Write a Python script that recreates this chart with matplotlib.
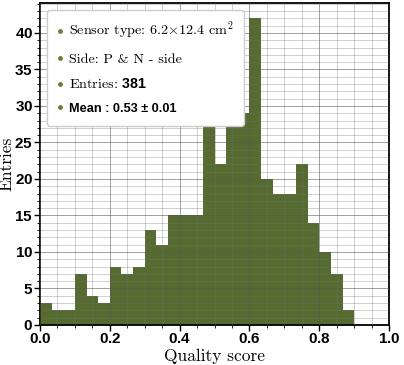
import numpy as np
import matplotlib
matplotlib.use('Agg')
import matplotlib.pyplot as plt
from matplotlib.lines import Line2D
from matplotlib.ticker import MultipleLocator

# histogram of quality scores, bins of width 1/30 from 0 to 0.9
bin_edges = np.linspace(0.0, 0.9, 28)
counts = [3, 2, 2, 7, 4, 3, 8, 7, 8, 13, 11, 15, 15, 15, 31,
          22, 33, 29, 42, 20, 18, 18, 22, 14, 10, 7, 2]

legend_labels = [
    r'Sensor type: 6.2$\times$12.4 cm$^2$',
    'Side: P & N - side',
    r'Entries: $\mathbf{381}$',
    'Mean : 0.53 \u00b1 0.01',
]

BAR_COLOR = '#566b30'
DOT_COLOR = '#6b7f3a'
SANS_BOLD = ['Liberation Sans', 'DejaVu Sans']

plt.rcParams['mathtext.fontset'] = 'custom'
plt.rcParams['mathtext.rm'] = 'cmr10'
plt.rcParams['mathtext.it'] = 'cmmi10'
plt.rcParams['mathtext.bf'] = 'Liberation Sans:bold'
plt.rcParams['mathtext.fallback'] = 'cm'
plt.rcParams['axes.formatter.use_mathtext'] = True

fig = plt.figure(figsize=(4.04, 3.65), dpi=100)
ax = fig.add_axes([0.099, 0.1096, 0.864, 0.882])

centers = (bin_edges[:-1] + bin_edges[1:]) / 2
ax.hist(centers, bins=bin_edges, weights=counts, color=BAR_COLOR)

ax.set_xlim(0, 1.0)
ax.set_ylim(0, 44.1)
ax.xaxis.set_major_locator(MultipleLocator(0.2))
ax.xaxis.set_minor_locator(MultipleLocator(0.05))
ax.yaxis.set_major_locator(MultipleLocator(5))
ax.yaxis.set_minor_locator(MultipleLocator(1))

ax.set_axisbelow(False)
ax.grid(which='major', color='0.35', linewidth=0.5, alpha=0.8)
ax.grid(which='minor', color='0.45', linewidth=0.4, alpha=0.6)

for s in ax.spines.values():
    s.set_linewidth(1.3)
ax.tick_params(which='major', length=4, width=1)
ax.tick_params(which='minor', length=2, width=0.6)
for lab in ax.get_xticklabels() + ax.get_yticklabels():
    lab.set_fontfamily(SANS_BOLD)
    lab.set_fontweight('bold')
    lab.set_fontsize(11)
ax.tick_params(pad=1)

ax.set_xlabel('Quality score', fontfamily='cmr10', fontsize=12.5, labelpad=2)
ax.set_ylabel('Entries', fontfamily='cmr10', fontsize=12.5)
ax.yaxis.set_label_coords(-0.072, 0.5)

handles = [Line2D([], [], marker='o', linestyle='none', markersize=2.5,
                  color=DOT_COLOR) for _ in legend_labels]
leg = ax.legend(handles, legend_labels, loc='upper left', handlelength=0.4,
                handletextpad=0.45, labelspacing=0.78, borderpad=0.72,
                borderaxespad=0.5,
                prop={'family': 'cmr10', 'size': 10.2}, framealpha=1.0)
leg.set_zorder(10)
mean_txt = leg.get_texts()[3]
mean_txt.set_fontfamily(SANS_BOLD)
mean_txt.set_fontweight('bold')
mean_txt.set_fontsize(9.2)

fig.savefig('out.png', dpi=100)
